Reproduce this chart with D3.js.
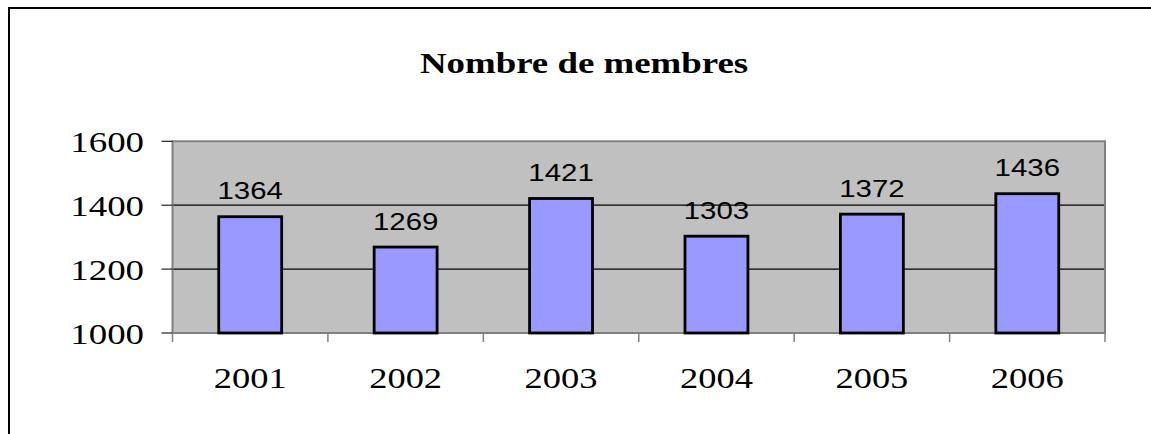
<!DOCTYPE html>
<meta charset="utf-8">
<style>
body { margin: 0; background: #fff; }
.serif { font-family: "Liberation Serif", "Times New Roman", serif; }
.sans { font-family: "Liberation Sans", Arial, sans-serif; }
</style>
<svg width="1151" height="434"></svg>
<script src="https://d3js.org/d3.v7.min.js"></script>
<script>

var years = ["2001", "2002", "2003", "2004", "2005", "2006"];
var members = [1364, 1269, 1421, 1303, 1372, 1436];
var yTicks = [1000, 1200, 1400, 1600];
var title = "Nombre de membres";

var svg = d3.select("svg");

// plot area edges
var pLeft = 172.5, pRight = 1105, pTop = 141.3, pBottom = 333;

var x = d3.scaleBand().domain(years).range([pLeft, pRight]).paddingInner(0.595).paddingOuter(0.2975);
var band = d3.scaleBand().domain(years).range([pLeft, pRight]);
var y = d3.scaleLinear().domain([1000, 1600]).range([pBottom, pTop]);

// outer frame (cut at right and bottom)
svg.append("path")
    .attr("d", "M9,434V8H1151")
    .attr("fill", "none")
    .attr("stroke", "#000")
    .attr("stroke-width", 2);

// text in the picture is drawn a bit wide, so stretch it horizontally
function stretchedText(g, tx, ty, txt, cls, sx) {
  return g.append("g")
      .attr("transform", "translate(" + tx + "," + ty + ") scale(" + sx + ",1)")
    .append("text")
      .attr("class", cls)
      .text(txt);
}

// title
stretchedText(svg, 584, 72.7, title, "serif", 1.25)
    .attr("text-anchor", "middle")
    .attr("font-weight", "bold")
    .attr("font-size", 29.5);

// plot background
svg.append("rect")
    .attr("x", pLeft).attr("y", pTop)
    .attr("width", pRight - pLeft).attr("height", pBottom - pTop)
    .attr("fill", "#c0c0c0");

// gridlines
svg.append("g").selectAll("line")
  .data(yTicks.slice(1, 3))
  .join("line")
    .attr("x1", pLeft).attr("x2", pRight)
    .attr("y1", d => y(d)).attr("y2", d => y(d))
    .attr("stroke", "#000")
    .attr("stroke-width", 1.2);

// border of plot area
svg.append("rect")
    .attr("x", pLeft).attr("y", pTop)
    .attr("width", pRight - pLeft).attr("height", pBottom - pTop)
    .attr("fill", "none")
    .attr("stroke", "#808080")
    .attr("stroke-width", 2);

// bars
svg.append("g").selectAll("rect")
  .data(members)
  .join("rect")
    .attr("x", (d, i) => x(years[i]))
    .attr("y", d => y(d))
    .attr("width", x.bandwidth())
    .attr("height", d => y(1000) - y(d))
    .attr("fill", "#9999ff")
    .attr("stroke", "#000")
    .attr("stroke-width", 2.8);

// value labels
var vl = svg.append("g");
members.forEach(function(d, i) {
  stretchedText(vl, x(years[i]) + x.bandwidth() / 2, y(d) - 17.5, d, "sans", 1.2)
      .attr("text-anchor", "middle")
      .attr("font-size", 24.5)
      .attr("fill", "#000");
});

// y axis ticks and labels
var ya = svg.append("g");
ya.selectAll("line")
  .data(yTicks)
  .join("line")
    .attr("x1", pLeft - 11).attr("x2", pLeft)
    .attr("y1", d => y(d)).attr("y2", d => y(d))
    .attr("stroke", "#222")
    .attr("stroke-width", 1.2);
yTicks.forEach(function(t) {
  stretchedText(ya, 144, y(t) + 10.5, t, "serif", 1.25)
      .attr("text-anchor", "end")
      .attr("font-size", 29.5);
});

// x axis ticks and labels
var xa = svg.append("g");
xa.selectAll("line")
  .data(d3.range(years.length + 1))
  .join("line")
    .attr("x1", i => pLeft + i * band.bandwidth())
    .attr("x2", i => pLeft + i * band.bandwidth())
    .attr("y1", pBottom).attr("y2", pBottom + 9)
    .attr("stroke", "#808080")
    .attr("stroke-width", 1.5);
years.forEach(function(yr) {
  stretchedText(xa, band(yr) + band.bandwidth() / 2, 387.7, yr, "serif", 1.28)
      .attr("text-anchor", "middle")
      .attr("font-size", 28.5);
});

</script>
